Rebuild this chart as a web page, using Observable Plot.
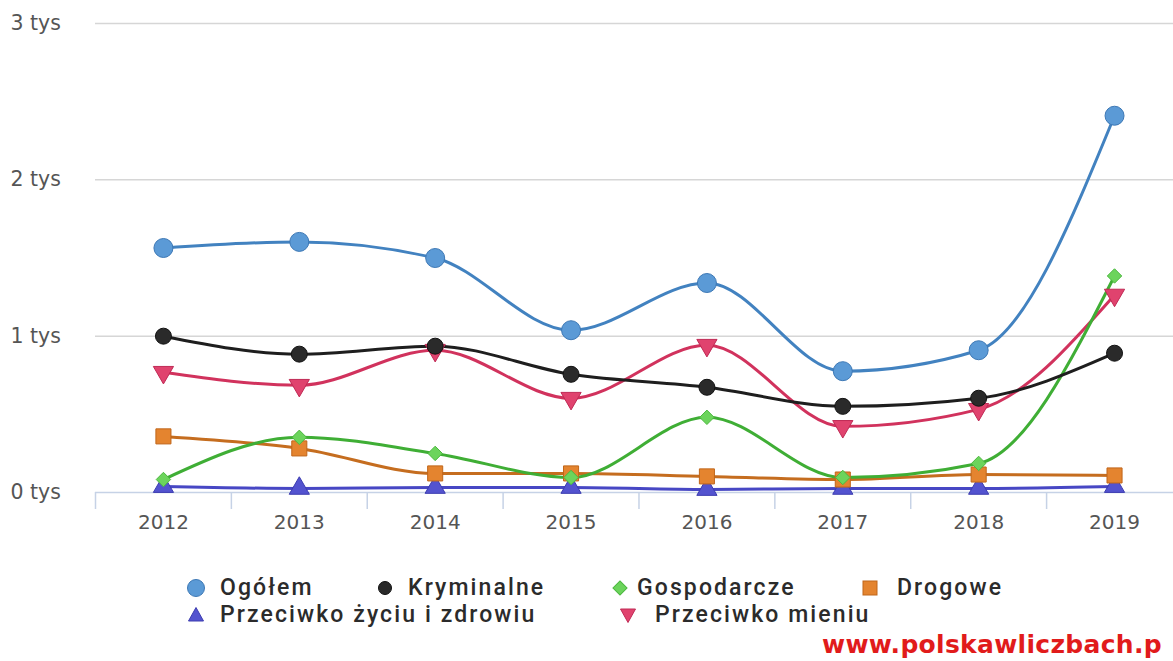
<!DOCTYPE html>
<html>
<head>
<meta charset="utf-8">
<script src="https://cdn.jsdelivr.net/npm/d3@7"></script>
<script src="https://cdn.jsdelivr.net/npm/@observablehq/plot@0.6"></script>
<style>
  html, body { margin: 0; padding: 0; background: #fff; width: 1173px; height: 661px; overflow: hidden; }
  #wrap { position: relative; width: 1173px; height: 661px; overflow: hidden; }
  #chart { position: absolute; left: 0; top: 0; }
  .leg { position: absolute; font-family: Roboto, sans-serif; font-weight: 500; font-size: 23px; letter-spacing: 2.1px; color: #2b2b2b; white-space: nowrap; line-height: 24px; height: 24px; }
  #wm { position: absolute; left: 822px; top: 632px; font-family: "DejaVu Sans", sans-serif; font-weight: bold; font-size: 25px; letter-spacing: 0.3px; color: #e11b1b; white-space: nowrap; line-height: 26px; }
</style>
</head>
<body>
<div id="wrap">
  <div id="chart"></div>
  <div id="legend"></div>
  <div id="wm">www.polskawliczbach.p</div>
</div>
<script>
const years = [2012, 2013, 2014, 2015, 2016, 2017, 2018, 2019];
const seriesNames = ["Ogółem", "Kryminalne", "Gospodarcze", "Drogowe", "Przeciwko życiu i zdrowiu", "Przeciwko mieniu"];
const ogolem       = [1564, 1603, 1500, 1038, 1340, 776, 910, 2410];
const kryminalne   = [1000, 885, 936, 756, 673, 551, 603, 891];
const gospodarcze  = [83, 353, 250, 96, 481, 96, 186, 1385];
const drogowe      = [359, 282, 122, 122, 103, 83, 115, 109];
const zycie        = [38, 26, 32, 32, 19, 26, 26, 38];
const mienie       = [769, 686, 910, 603, 942, 423, 532, 1263];
const yTicks = [0, 1000, 2000, 3000];
const yTickLabels = ["0 tys", "1 tys", "2 tys", "3 tys"];

const seriesValues = [ogolem, kryminalne, gospodarcze, drogowe, zycie, mienie];
const styles = [
  {line: "#4282c0", fill: "#5b9ad6", stroke: "#3d78b5", symbol: "circle", r: 9.5, rotate: 0},
  {line: "#1e1e1e", fill: "#2a2a2a", stroke: "#111", symbol: "circle", r: 8, rotate: 0},
  {line: "#3fae35", fill: "#6cd45c", stroke: "#4cb83f", symbol: "diamond2", r: 6.5, rotate: 0},
  {line: "#c56d1f", fill: "#e4842f", stroke: "#c0661a", symbol: "square", r: 8.5, rotate: 0},
  {line: "#4747c4", fill: "#5353cf", stroke: "#3c3cb0", symbol: "triangle", r: 7.5, rotate: 0},
  {line: "#d1325d", fill: "#e0436e", stroke: "#c02a55", symbol: "triangle", r: 7.5, rotate: 180}
];

const rows = [];
seriesNames.forEach((name, i) => {
  years.forEach((yr, j) => rows.push({series: name, idx: i, year: yr, value: seriesValues[i][j]}));
});

const bounds = years.map(y => y - 0.5).concat([2019.5]);

const lineMarks = [];
const dotMarks = [];
const order = [5, 4, 3, 2, 1, 0];
for (const i of order) {
  const data = rows.filter(d => d.idx === i);
  lineMarks.push(Plot.line(data, {x: "year", y: "value", stroke: styles[i].line, strokeWidth: 3, curve: "monotone-x"}));
}
for (const i of order) {
  const data = rows.filter(d => d.idx === i);
  dotMarks.push(Plot.dot(data, {x: "year", y: "value", symbol: () => styles[i].symbol, r: styles[i].r, fill: styles[i].fill, stroke: styles[i].stroke, strokeWidth: 1, rotate: styles[i].rotate}));
}

const chart = Plot.plot({
  width: 1173,
  height: 540,
  marginLeft: 95,
  marginRight: 0,
  marginTop: 23,
  marginBottom: 48,
  style: {fontFamily: "DejaVu Sans, sans-serif", background: "transparent"},
  x: {domain: [2011.5, 2019.434], axis: null},
  y: {domain: [0, 3000], axis: null},
  symbol: {type: "identity"},
  marks: [
    Plot.ruleY(yTicks.slice(1), {stroke: "#d6d6d6", strokeWidth: 1.5}),
    Plot.ruleY([0], {stroke: "#c6d2e6", strokeWidth: 1.5}),
    Plot.axisX(bounds, {tickSize: 17, tickFormat: () => "", label: null, stroke: "#c6d2e6", strokeWidth: 1.5}),
    Plot.axisX(years, {tickSize: 0, tickPadding: 22, tickFormat: d => String(d), label: null, fontSize: 20, fill: "#555", stroke: null, letterSpacing: "0.8px"}),
    Plot.text(yTicks, {y: d => d, text: (d, i) => yTickLabels[i], frameAnchor: "left", textAnchor: "start", dx: -85, fontSize: 20.5, fill: "#555", letterSpacing: "0.6px"}),
    ...lineMarks,
    ...dotMarks
  ]
});
document.getElementById("chart").appendChild(chart);

// legend
const legendPos = [
  {x: 196, y: 588, tx: 220},
  {x: 385, y: 588, tx: 408},
  {x: 620, y: 588, tx: 637},
  {x: 870, y: 588, tx: 897},
  {x: 196, y: 615, tx: 220},
  {x: 628, y: 615, tx: 655}
];
const symPaths = {
  circle: r => `<circle cx="12" cy="12" r="${r}"/>`,
  diamond2: r => `<rect x="${12 - r}" y="${12 - r}" width="${2 * r}" height="${2 * r}" transform="rotate(45 12 12)"/>`,
  square: r => `<rect x="${12 - r}" y="${12 - r}" width="${2 * r}" height="${2 * r}"/>`,
  triangle: r => `<path d="M12,${12 - r} L${12 + r},${12 + r * 0.8} L${12 - r},${12 + r * 0.8} Z"/>`
};
const legSizes = [8.5, 6.5, 5, 7, 7.5, 7.5];
const legend = document.getElementById("legend");
seriesNames.forEach((name, i) => {
  const p = legendPos[i];
  const s = styles[i];
  const div = document.createElement("div");
  div.className = "leg";
  div.style.left = p.tx + "px";
  div.style.top = (p.y - 12) + "px";
  div.textContent = name;
  legend.appendChild(div);
  const svg = document.createElementNS("http://www.w3.org/2000/svg", "svg");
  svg.setAttribute("width", 24); svg.setAttribute("height", 24);
  svg.style.position = "absolute";
  svg.style.left = (p.x - 12) + "px";
  svg.style.top = (p.y - 12) + "px";
  const tr = s.rotate ? ` transform="rotate(180 12 12)"` : "";
  svg.innerHTML = `<g fill="${s.fill}" stroke="${s.stroke}" stroke-width="1"${tr}>${symPaths[s.symbol](legSizes[i])}</g>`;
  legend.appendChild(svg);
});
</script>
</body>
</html>
